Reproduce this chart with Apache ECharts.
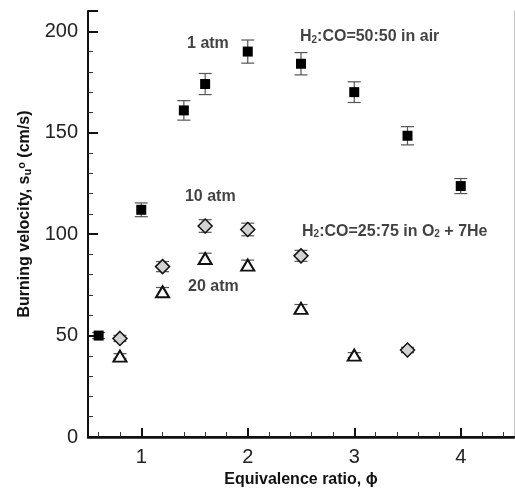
<!DOCTYPE html>
<html>
<head>
<meta charset="utf-8">
<script src="https://cdn.jsdelivr.net/npm/echarts@6/dist/echarts.min.js"></script>
<style>html,body{margin:0;padding:0;background:#fff;}#c{width:515px;height:496px;}</style>
</head>
<body>
<div id="c"></div>
<script>
// ---- data ----
var phi1 = [0.6, 1.0, 1.4, 1.6, 2.0, 2.5, 3.0, 3.5, 4.0];
var su1 = [50, 112, 161, 174, 190, 184, 170, 148.5, 123.7];
var err1 = [1.5, 3.4, 4.8, 5.2, 5.7, 5.5, 5.1, 4.5, 3.7];

var phi10 = [0.8, 1.2, 1.6, 2.0, 2.5, 3.5];
var su10 = [48.6, 84, 104, 102.3, 89.3, 42.9];
var err10 = [1.5, 2.5, 3.1, 3.1, 2.7, 1.3];

var phi20 = [0.8, 1.2, 1.6, 2.0, 2.5, 3.0];
var su20 = [39.9, 71.6, 88, 84.7, 63.4, 40.4];
var err20 = [1.2, 2.1, 2.6, 2.5, 1.9, 1.2];

var xTickLabels = [1, 2, 3, 4];
var xMinorTicks = [0.6, 0.8, 1.0, 1.2, 1.4, 1.6, 1.8, 2.0, 2.2, 2.4, 2.6, 2.8, 3.0, 3.2, 3.4, 3.6, 3.8, 4.0, 4.2, 4.4];
var yTickLabels = [0, 50, 100, 150, 200];

var annotations = [
  {pos: [1.43, 193.7], text: '1 atm'},
  {pos: [1.41, 118.3], text: '10 atm'},
  {pos: [1.44, 74], text: '20 atm'},
  {pos: [2.49, 197.3], text: '{a|H}{s|2}{a|:CO=50:50 in air}'},
  {pos: [2.51, 101.2], text: '{a|H}{s|2}{a|:CO=25:75 in O}{s|2}{a| + 7He}'}
];

// ---- chart ----
var FONT = 'Arial, "Liberation Sans", sans-serif';
function pairs(xs, ys) { return xs.map(function (x, i) { return [x, ys[i]]; }); }
function errData(xs, ys, es) { return xs.map(function (x, i) { return [x, ys[i] - es[i], ys[i] + es[i]]; }); }
function isIn(list, v) { return list.some(function (t) { return Math.abs(t - v) < 1e-6; }); }

function errorSeries(xs, ys, es) {
  return {
    type: 'custom',
    xAxisIndex: 0, yAxisIndex: 0,
    z: 1,
    silent: true,
    data: errData(xs, ys, es),
    renderItem: function (params, api) {
      var lo = api.coord([api.value(0), api.value(1)]);
      var hi = api.coord([api.value(0), api.value(2)]);
      var hw = 6.5;
      var st = {stroke: '#555', lineWidth: 1.2, fill: null};
      return {
        type: 'group',
        children: [
          {type: 'line', shape: {x1: lo[0], y1: lo[1], x2: hi[0], y2: hi[1]}, style: st},
          {type: 'line', shape: {x1: lo[0] - hw, y1: lo[1], x2: lo[0] + hw, y2: lo[1]}, style: st},
          {type: 'line', shape: {x1: hi[0] - hw, y1: hi[1], x2: hi[0] + hw, y2: hi[1]}, style: st}
        ]
      };
    }
  };
}

var chart = echarts.init(document.getElementById('c'), null, {renderer: 'canvas'});
var option = {
  animation: false,
  backgroundColor: '#fff',
  textStyle: {fontFamily: FONT},
  grid: {left: 88, right: 1, top: 11, bottom: 59},
  xAxis: [
    {
      type: 'value', min: 0.5, max: 4.5, position: 'bottom',
      axisLine: {show: true, lineStyle: {color: '#111', width: 2}},
      axisTick: {show: true, inside: true, length: 5, customValues: xMinorTicks, lineStyle: {color: '#333', width: 1}},
      splitLine: {show: false},
      axisLabel: {
        fontSize: 20, color: '#222', margin: 10, fontFamily: FONT,
        customValues: xTickLabels,
        formatter: function (v) { return String(Math.round(v)); }
      },
      name: 'Equivalence ratio, \u03d5', nameLocation: 'middle', nameGap: 31,
      nameTextStyle: {fontSize: 16, fontWeight: 'bold', color: '#111', fontFamily: FONT}
    },
    {
      type: 'value', min: 0.5, max: 4.5, position: 'bottom',
      axisLine: {show: false},
      axisTick: {show: true, inside: true, length: 9, customValues: xTickLabels, lineStyle: {color: '#111', width: 2}},
      splitLine: {show: false},
      axisLabel: {show: false}
    },
    {
      type: 'value', min: 0.5, max: 4.5, position: 'top',
      axisLine: {show: true, lineStyle: {color: '#111', width: 2.5}},
      axisTick: {show: false}, splitLine: {show: false}, axisLabel: {show: false}
    }
  ],
  yAxis: [
    {
      type: 'value', min: 0, max: 210, interval: 10, position: 'left',
      axisLine: {show: true, lineStyle: {color: '#111', width: 2}},
      axisTick: {show: true, inside: true, length: 5, lineStyle: {color: '#333', width: 1}},
      splitLine: {show: false},
      axisLabel: {
        fontSize: 20, color: '#222', margin: 10, fontFamily: FONT,
        formatter: function (v) { return isIn(yTickLabels, v) ? String(Math.round(v)) : ''; }
      },
      name: '{t|Burning velocity, s}{sub|u}{sup|o}{t| (cm/s)}',
      nameLocation: 'middle', nameGap: 55,
      nameTextStyle: {
        fontSize: 16, fontWeight: 'bold', color: '#111', fontFamily: FONT, padding: [0, 0, 0, 20],
        rich: {
          t: {fontSize: 16, fontWeight: 'bold', color: '#111', fontFamily: FONT},
          sub: {fontSize: 11, fontWeight: 'bold', color: '#111', fontFamily: FONT, verticalAlign: 'bottom', padding: [6, 0, 0, 0]},
          sup: {fontSize: 11, fontWeight: 'bold', color: '#111', fontFamily: FONT, verticalAlign: 'top', padding: [0, 0, 6, 0]}
        }
      }
    },
    {
      type: 'value', min: 0, max: 210, interval: 50, position: 'left',
      axisLine: {show: false},
      axisTick: {show: true, inside: true, length: 10, lineStyle: {color: '#111', width: 2}},
      splitLine: {show: false},
      axisLabel: {show: false}
    },
    {
      type: 'value', min: 0, max: 210, position: 'right',
      axisLine: {show: true, lineStyle: {color: '#c4c4c4', width: 1}},
      axisTick: {show: false}, splitLine: {show: false}, axisLabel: {show: false}
    }
  ],
  series: [
    errorSeries(phi1, su1, err1),
    errorSeries(phi10, su10, err10),
    errorSeries(phi20, su20, err20),
    {
      type: 'scatter', name: '1 atm', xAxisIndex: 0, yAxisIndex: 0, z: 3,
      symbol: 'rect', symbolSize: 10,
      itemStyle: {color: '#000', opacity: 1},
      data: pairs(phi1, su1)
    },
    {
      type: 'scatter', name: '10 atm', xAxisIndex: 0, yAxisIndex: 0, z: 3,
      symbol: 'diamond', symbolSize: [14, 14],
      itemStyle: {color: '#d2d2d2', borderColor: '#111', borderWidth: 1.5, opacity: 1},
      data: pairs(phi10, su10)
    },
    {
      type: 'scatter', name: '20 atm', xAxisIndex: 0, yAxisIndex: 0, z: 3,
      symbol: 'triangle', symbolSize: [13, 11],
      itemStyle: {color: '#fff', borderColor: '#111', borderWidth: 2, opacity: 1},
      data: pairs(phi20, su20)
    },
    {
      type: 'scatter', xAxisIndex: 0, yAxisIndex: 0, z: 4, silent: true,
      symbolSize: 0,
      data: annotations.map(function (a) { return {value: a.pos, text: a.text}; }),
      label: {
        show: true, position: 'right', distance: 0,
        fontSize: 16, fontWeight: 'bold', color: '#111', fontFamily: FONT,
        formatter: function (p) { return p.data.text; },
        rich: {
          a: {fontSize: 16, fontWeight: 'bold', color: '#111', fontFamily: FONT},
          s: {fontSize: 10, fontWeight: 'bold', color: '#111', fontFamily: FONT, verticalAlign: 'bottom', padding: [6, 0, 0, 0]}
        }
      }
    }
  ]
};
chart.setOption(option);
</script>
</body>
</html>
